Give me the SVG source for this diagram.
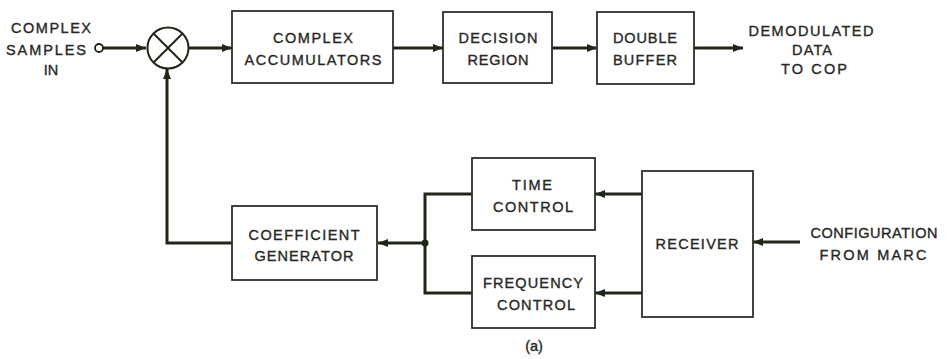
<svg xmlns="http://www.w3.org/2000/svg" width="949" height="359" viewBox="0 0 949 359">
  <defs>
    <marker id="arrow" viewBox="0 0 10 8" refX="10" refY="4" markerWidth="18" markerHeight="8" markerUnits="userSpaceOnUse" orient="auto">
      <path d="M0,0 L10,4 L0,8 Z" fill="#1e2616"/>
    </marker>
    <style>
      .box { fill: #ffffff; stroke: #2e3128; stroke-width: 1.8; }
      .wire { fill: none; stroke: #1e2616; stroke-width: 3; }
      .wire-arrow { fill: none; stroke: #1e2616; stroke-width: 3; marker-end: url(#arrow); }
      text { font-family: "Liberation Sans", Arial, sans-serif; font-size: 14.5px; fill: #262824; stroke: #262824; stroke-width: 0.35; text-anchor: middle; }
    </style>
  </defs>
  <rect width="949" height="359" fill="#ffffff"/>

  <!-- connectors -->
  <g id="connectors">
    <!-- input terminal to mixer -->
    <line class="wire-arrow" x1="103" y1="48" x2="146" y2="48"/>
    <!-- mixer to accumulators -->
    <line class="wire-arrow" x1="189" y1="48" x2="232" y2="48"/>
    <!-- accumulators to decision region -->
    <line class="wire-arrow" x1="393" y1="48" x2="443" y2="48"/>
    <!-- decision region to double buffer -->
    <line class="wire-arrow" x1="552" y1="48" x2="597" y2="48"/>
    <!-- double buffer output -->
    <line class="wire-arrow" x1="694" y1="48" x2="743" y2="48"/>
    <!-- coefficient feedback into mixer -->
    <polyline class="wire-arrow" points="232,243 167,243 167,69"/>
    <!-- control loops into coefficient generator -->
    <polyline class="wire" points="472,194 425,194 425,293 472,293"/>
    <line class="wire-arrow" x1="425" y1="243" x2="378" y2="243"/>
    <circle cx="425" cy="243" r="3.5" fill="#1e2616"/>
    <!-- receiver to time / frequency control -->
    <line class="wire-arrow" x1="642" y1="194" x2="595" y2="194"/>
    <line class="wire-arrow" x1="642" y1="293" x2="595" y2="293"/>
    <!-- configuration input -->
    <line class="wire-arrow" x1="800" y1="242" x2="753" y2="242"/>
  </g>

  <!-- input label and terminal -->
  <g id="input">
    <text x="51" y="33" textLength="80">COMPLEX</text>
    <text x="46" y="55" textLength="80">SAMPLES</text>
    <text x="51" y="75">IN</text>
    <circle cx="99" cy="48" r="4" fill="#ffffff" stroke="#1e2616" stroke-width="1.8"/>
  </g>

  <!-- multiplier -->
  <g id="mixer">
    <circle cx="168" cy="48" r="20.5" fill="#ffffff" stroke="#1e2616" stroke-width="2"/>
    <line x1="153.5" y1="33.5" x2="182.5" y2="62.5" stroke="#1e2616" stroke-width="2"/>
    <line x1="182.5" y1="33.5" x2="153.5" y2="62.5" stroke="#1e2616" stroke-width="2"/>
  </g>

  <g id="complex-accumulators">
    <rect class="box" x="232" y="11" width="161" height="72"/>
    <text x="313" y="43" textLength="80">COMPLEX</text>
    <text x="313" y="65" textLength="137">ACCUMULATORS</text>
  </g>

  <g id="decision-region">
    <rect class="box" x="443" y="12" width="109" height="71"/>
    <text x="498" y="43" textLength="79">DECISION</text>
    <text x="498" y="65" textLength="61">REGION</text>
  </g>

  <g id="double-buffer">
    <rect class="box" x="597" y="12" width="97" height="72"/>
    <text x="645" y="43" textLength="64">DOUBLE</text>
    <text x="645" y="65" textLength="64">BUFFER</text>
  </g>

  <g id="output">
    <text x="811" y="36" textLength="125">DEMODULATED</text>
    <text x="812" y="55" textLength="40">DATA</text>
    <text x="814" y="74" textLength="66">TO COP</text>
  </g>

  <g id="coefficient-generator">
    <rect class="box" x="232" y="206" width="145" height="74"/>
    <text x="304" y="240" textLength="111">COEFFICIENT</text>
    <text x="304" y="261" textLength="99">GENERATOR</text>
  </g>

  <g id="time-control">
    <rect class="box" x="472" y="158" width="123" height="72"/>
    <text x="532" y="190" textLength="40">TIME</text>
    <text x="533" y="212" textLength="80">CONTROL</text>
  </g>

  <g id="frequency-control">
    <rect class="box" x="472" y="256" width="123" height="72"/>
    <text x="533" y="288" textLength="100">FREQUENCY</text>
    <text x="536" y="310" textLength="78">CONTROL</text>
  </g>

  <g id="receiver">
    <rect class="box" x="642" y="171" width="111" height="146"/>
    <text x="697" y="249" textLength="83">RECEIVER</text>
  </g>

  <g id="configuration">
    <text x="874" y="238" textLength="127">CONFIGURATION</text>
    <text x="873" y="260" textLength="107">FROM MARC</text>
  </g>

  <text x="534" y="351">(a)</text>
</svg>
